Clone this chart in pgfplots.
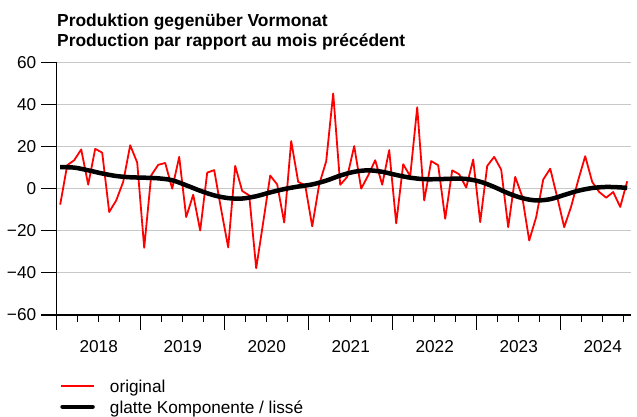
\documentclass[border=0pt]{standalone}
\usepackage{fontspec}
\setmainfont{Liberation Sans}
\usepackage{pgfplots}
\pgfplotsset{compat=1.18}
\definecolor{gridgray}{RGB}{200,200,200}
\newcommand{\fs}{\fontsize{17.2}{20}\selectfont}
\begin{document}
\begin{tikzpicture}
\path[use as bounding box] (0pt,0pt) rectangle (637pt,417pt);
\node[anchor=base west, inner sep=0pt, font=\fontsize{17.4}{20}\selectfont\bfseries] at (57pt,390.5pt) {Produktion gegenüber Vormonat};
\node[anchor=base west, inner sep=0pt, font=\fontsize{17.4}{20}\selectfont\bfseries] at (57pt,370.5pt) {Production par rapport au mois précédent};
\begin{axis}[
  at={(56.7pt,102pt)}, anchor=south west,
  scale only axis, width=574pt, height=252.7pt,
  xmin=-0.5, xmax=81.5, ymin=-60, ymax=60,
  axis x line*=bottom, axis y line*=left,
  axis line style={-, line width=1.2pt, black},
  clip=false,
  tick align=outside,
  major tick length=15.5pt, minor tick length=7.5pt,
  every tick/.style={black, line width=1.2pt},
  xtick={-0.5,11.5,23.5,35.5,47.5,59.5,71.5},
  xticklabels={},
  minor xtick={2.5,5.5,8.5,14.5,17.5,20.5,26.5,29.5,32.5,38.5,41.5,44.5,50.5,53.5,56.5,62.5,65.5,68.5,74.5,77.5,80.5},
  ytick={-60,-40,-20,0,20,40,60},
  yticklabels={−60,−40,−20,0,20,40,60},
  yticklabel style={font=\fs, anchor=east, xshift=-1.5pt},
  ymajorgrids, grid style={gridgray, line width=0.9pt},
  legend style={at={(0,0)}, anchor=north west, xshift=3.3pt, yshift=-65.2pt,
    draw=none, fill=none, inner sep=0pt, font=\fs, row sep=4.6pt, column sep=15pt,
    nodes={inner sep=0pt, text height=12.5pt, text depth=3.5pt}},
  legend cell align=left,
]
\addplot[red, line width=1.8pt, line join=round,
  legend image code/.code={\draw[red, line width=1.8pt] (0pt,2.2pt) -- (33pt,2.2pt);}] coordinates {
(0,-7.6) (1,11.1) (2,13.5) (3,18.6) (4,1.9) (5,18.9) (6,17.1) (7,-11.1) (8,-5.6) (9,3.2)
(10,20.6) (11,12.4) (12,-28.1) (13,6.3) (14,11.3) (15,12.2) (16,0) (17,15.1) (18,-13.5) (19,-2.9)
(20,-19.9) (21,7.6) (22,8.8) (23,-10) (24,-27.9) (25,10.8) (26,-1.1) (27,-3.2) (28,-37.8) (29,-16)
(30,6.2) (31,2) (32,-16.1) (33,22.6) (34,3.2) (35,1.6) (36,-17.9) (37,2) (38,13) (39,45.2)
(40,1.8) (41,5.6) (42,20.2) (43,0) (44,6.3) (45,13.5) (46,1.9) (47,18.3) (48,-16.5) (49,11.6)
(50,5.9) (51,38.6) (52,-5.6) (53,13.1) (54,11.1) (55,-14.3) (56,8.7) (57,6.8) (58,0.5) (59,13.8)
(60,-15.9) (61,10.8) (62,15.1) (63,9.0) (64,-18.3) (65,5.6) (66,-3.7) (67,-24.6) (68,-13.5) (69,4.3)
(70,9.5) (71,-4.0) (72,-18.3) (73,-8.4) (74,4) (75,15.4) (76,3.2) (77,-1.6) (78,-4.3) (79,-1.6)
(80,-8.7) (81,3.5)
};
\addlegendentry{original}
\addplot[black, line width=4.5pt, smooth,
  legend image code/.code={\draw[black, line width=4.5pt, line cap=round] (1.5pt,2.2pt) -- (31.5pt,2.2pt);}] coordinates {
(0,10.2) (2,10.0) (4,8.7) (6,7.2) (8,6.0) (10,5.4) (12,5.2) (14,4.9) (16,4.0) (18,1.6)
(20,-1.0) (22,-3.2) (24,-4.5) (26,-4.7) (28,-3.6) (30,-1.8) (32,-0.2) (34,1.0) (36,2.0) (38,3.8)
(40,6.2) (42,8.0) (44,8.7) (46,8.0) (48,6.5) (50,5.2) (52,4.5) (54,4.5) (56,4.7) (58,4.6)
(60,3.3) (62,0.8) (64,-2.2) (66,-4.5) (68,-5.6) (70,-5.0) (72,-3.0) (74,-1.0) (76,0.3) (78,0.8)
(80,0.6) (81,0.3)
};
\addlegendentry{glatte Komponente / lissé}
\node[anchor=base, font=\fs, yshift=-38pt] at (axis cs:5.5,-60) {2018};
\node[anchor=base, font=\fs, yshift=-38pt] at (axis cs:17.5,-60) {2019};
\node[anchor=base, font=\fs, yshift=-38pt] at (axis cs:29.5,-60) {2020};
\node[anchor=base, font=\fs, yshift=-38pt] at (axis cs:41.5,-60) {2021};
\node[anchor=base, font=\fs, yshift=-38pt] at (axis cs:53.5,-60) {2022};
\node[anchor=base, font=\fs, yshift=-38pt] at (axis cs:65.5,-60) {2023};
\node[anchor=base, font=\fs, yshift=-38pt] at (axis cs:77.5,-60) {2024};
\end{axis}
\end{tikzpicture}
\end{document}
